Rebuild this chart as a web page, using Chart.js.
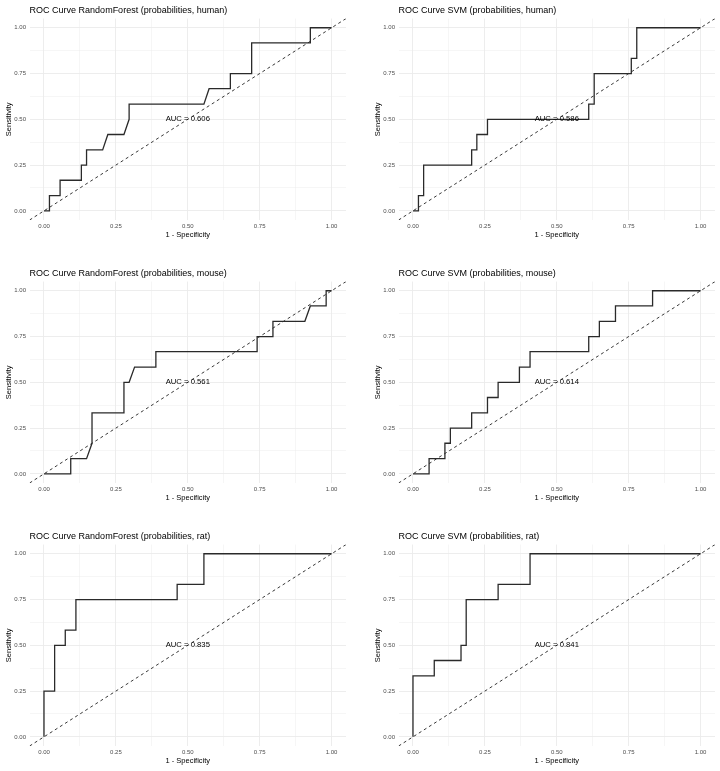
<!DOCTYPE html>
<html>
<head>
<meta charset="utf-8">
<script src="https://cdn.jsdelivr.net/npm/chart.js@4.4.1/dist/chart.umd.min.js"></script>
<style>
    html, body { margin: 0; padding: 0; background: #ffffff; }
    #wrap { position: relative; width: 720px; height: 771px; overflow: hidden; background: #ffffff; }
    .cell { position: absolute; width: 346px; height: 237px; }
</style>
</head>
<body>
<div id="wrap"></div>
<script>
// ROC points (x = 1 - specificity, y = sensitivity)
const rfHumanX = [0, 0.019, 0.019, 0.056, 0.056, 0.130, 0.130, 0.148, 0.148, 0.204, 0.222, 0.278, 0.296, 0.296, 0.556, 0.574, 0.648, 0.648, 0.722, 0.722, 0.926, 0.926, 1]
const rfHumanY = [0, 0, 0.083, 0.083, 0.167, 0.167, 0.25, 0.25, 0.333, 0.333, 0.417, 0.417, 0.5, 0.583, 0.583, 0.667, 0.667, 0.75, 0.75, 0.917, 0.917, 1, 1]

const svmHumanX = [0, 0.019, 0.019, 0.037, 0.037, 0.204, 0.204, 0.222, 0.222, 0.259, 0.259, 0.611, 0.611, 0.630, 0.630, 0.759, 0.759, 0.778, 0.778, 1]
const svmHumanY = [0, 0, 0.083, 0.083, 0.25, 0.25, 0.333, 0.333, 0.417, 0.417, 0.5, 0.5, 0.583, 0.583, 0.75, 0.75, 0.833, 0.833, 1, 1]

const rfMouseX = [0, 0.093, 0.093, 0.148, 0.167, 0.167, 0.278, 0.278, 0.296, 0.315, 0.389, 0.389, 0.741, 0.741, 0.796, 0.796, 0.907, 0.926, 0.981, 0.981, 1]
const rfMouseY = [0, 0, 0.083, 0.083, 0.167, 0.333, 0.333, 0.5, 0.5, 0.583, 0.583, 0.667, 0.667, 0.75, 0.75, 0.833, 0.833, 0.917, 0.917, 1, 1]

const svmMouseX = [0, 0.056, 0.056, 0.111, 0.111, 0.130, 0.130, 0.204, 0.204, 0.259, 0.259, 0.296, 0.296, 0.370, 0.370, 0.407, 0.407, 0.611, 0.611, 0.648, 0.648, 0.704, 0.704, 0.833, 0.833, 1]
const svmMouseY = [0, 0, 0.083, 0.083, 0.167, 0.167, 0.25, 0.25, 0.333, 0.333, 0.417, 0.417, 0.5, 0.5, 0.583, 0.583, 0.667, 0.667, 0.75, 0.75, 0.833, 0.833, 0.917, 0.917, 1, 1]

const rfRatX = [0, 0, 0.037, 0.037, 0.074, 0.074, 0.111, 0.111, 0.463, 0.463, 0.556, 0.556, 1]
const rfRatY = [0, 0.25, 0.25, 0.5, 0.5, 0.583, 0.583, 0.75, 0.75, 0.833, 0.833, 1, 1]

const svmRatX = [0, 0, 0.074, 0.074, 0.167, 0.167, 0.185, 0.185, 0.296, 0.296, 0.407, 0.407, 1]
const svmRatY = [0, 0.333, 0.333, 0.417, 0.417, 0.5, 0.5, 0.75, 0.75, 0.833, 0.833, 1, 1]

const panelTitles = [
    'ROC Curve RandomForest (probabilities, human)',
    'ROC Curve SVM (probabilities, human)',
    'ROC Curve RandomForest (probabilities, mouse)',
    'ROC Curve SVM (probabilities, mouse)',
    'ROC Curve RandomForest (probabilities, rat)',
    'ROC Curve SVM (probabilities, rat)'
]
const aucValues = ['0.606', '0.586', '0.561', '0.614', '0.835', '0.841']

const tickValues = [0, 0.25, 0.5, 0.75, 1]
const tickLabels = ['0.00', '0.25', '0.50', '0.75', '1.00']
const minorValues = [0.125, 0.375, 0.625, 0.875]
const chanceLine = [-0.05, 1.05]

const xLabel = '1 - Specificity'
const yLabel = 'Sensitivity'

const curvesX = [rfHumanX, svmHumanX, rfMouseX, svmMouseX, rfRatX, svmRatX]
const curvesY = [rfHumanY, svmHumanY, rfMouseY, svmMouseY, rfRatY, svmRatY]

// where each panel sits on the page
const colLeft = [0, 369]
const rowTop = [3, 266, 529]

const FONT = "'Liberation Sans', Arial, Helvetica, sans-serif"

const aucLabel = {
    id: 'aucLabel',
    afterDatasetsDraw(chart, args, opts) {
        const ctx = chart.ctx
        const x = chart.scales.x.getPixelForValue(0.5)
        const y = chart.scales.y.getPixelForValue(0.5)
        ctx.save()
        ctx.font = '7.7px ' + FONT
        ctx.fillStyle = '#000000'
        ctx.textAlign = 'center'
        ctx.textBaseline = 'middle'
        ctx.fillText('AUC = ' + opts.value, x, y)
        ctx.restore()
    }
}

function buildTicks(scale) {
    scale.ticks = tickValues.concat(minorValues).sort((a, b) => a - b).map(v => ({ value: v }))
}

function tickText(value) {
    const i = tickValues.indexOf(value)
    return i >= 0 ? tickLabels[i] : ''
}

function gridWidth(c) {
    return tickValues.indexOf(c.tick.value) >= 0 ? 0.9 : 0.45
}

const wrap = document.getElementById('wrap')

for (let i = 0; i < 6; i++) {
    const cell = document.createElement('div')
    cell.className = 'cell'
    cell.style.left = colLeft[i % 2] + 'px'
    cell.style.top = rowTop[Math.floor(i / 2)] + 'px'
    const canvas = document.createElement('canvas')
    cell.appendChild(canvas)
    wrap.appendChild(cell)

    const points = curvesX[i].map((x, k) => ({ x: x, y: curvesY[i][k] }))
    const diag = chanceLine.map(v => ({ x: v, y: v }))

    new Chart(canvas.getContext('2d'), {
        type: 'scatter',
        data: {
            datasets: [
                {
                    data: diag,
                    showLine: true,
                    borderColor: '#222222',
                    borderWidth: 0.9,
                    borderDash: [3, 3],
                    pointRadius: 0,
                    order: 2
                },
                {
                    data: points,
                    showLine: true,
                    borderColor: '#2a2a2a',
                    borderWidth: 1.3,
                    pointRadius: 0,
                    order: 1
                }
            ]
        },
        options: {
            responsive: true,
            maintainAspectRatio: false,
            animation: false,
            layout: { padding: 0 },
            plugins: {
                legend: { display: false },
                tooltip: { enabled: false },
                title: {
                    display: true,
                    text: panelTitles[i],
                    align: 'start',
                    fullSize: false,
                    color: '#000000',
                    font: { family: FONT, size: 9, weight: 'normal', lineHeight: 1.2 },
                    padding: { top: 2, bottom: 2.8 }
                },
                aucLabel: { value: aucValues[i] }
            },
            scales: {
                x: {
                    type: 'linear',
                    min: -0.05,
                    max: 1.05,
                    afterBuildTicks: buildTicks,
                    afterFit: s => { s.height = 20 },
                    border: { display: false },
                    grid: { color: '#EBEBEB', lineWidth: gridWidth, drawTicks: false },
                    ticks: {
                        callback: tickText,
                        color: '#4D4D4D',
                        font: { family: FONT, size: 6 },
                        padding: 2.6,
                        maxRotation: 0,
                        autoSkip: false
                    },
                    title: {
                        display: true,
                        text: xLabel,
                        color: '#000000',
                        font: { family: FONT, size: 7.5, lineHeight: 1.2 },
                        padding: { top: 0, bottom: 0.5 }
                    }
                },
                y: {
                    type: 'linear',
                    min: -0.05,
                    max: 1.05,
                    afterBuildTicks: buildTicks,
                    afterFit: s => { s.width = 29.6 },
                    border: { display: false },
                    grid: { color: '#EBEBEB', lineWidth: gridWidth, drawTicks: false },
                    ticks: {
                        callback: tickText,
                        color: '#4D4D4D',
                        font: { family: FONT, size: 6 },
                        padding: 3.6,
                        autoSkip: false
                    },
                    title: {
                        display: true,
                        text: yLabel,
                        color: '#000000',
                        font: { family: FONT, size: 7.5, lineHeight: 1.2 },
                        padding: { top: 4.5, bottom: 0 }
                    }
                }
            }
        },
        plugins: [aucLabel]
    })
}
</script>
</body>
</html>
